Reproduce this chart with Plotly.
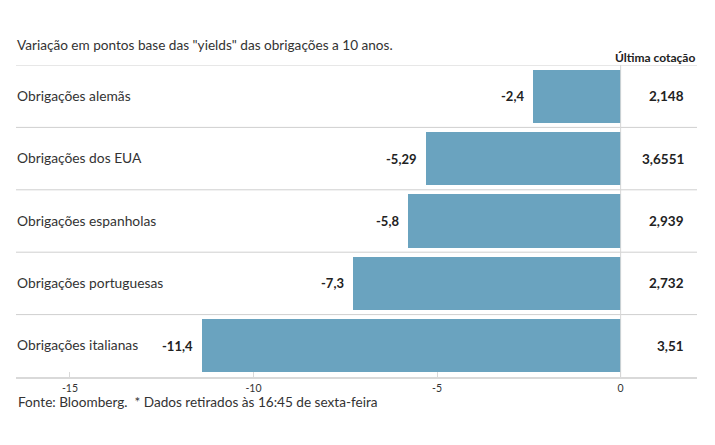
import plotly.graph_objects as go

categories = ["Obrigações alemãs", "Obrigações dos EUA", "Obrigações espanholas",
              "Obrigações portuguesas", "Obrigações italianas"]
variation = [-2.4, -5.29, -5.8, -7.3, -11.4]
variation_labels = ["-2,4", "-5,29", "-5,8", "-7,3", "-11,4"]
last_quote = ["2,148", "3,6551", "2,939", "2,732", "3,51"]
tick_vals = [-15, -10, -5, 0]
tick_text = ["-15", "-10", "-5", "0"]

FONT = "Lato"
TXT = "#333333"
BAR = "#6aa3bf"

n = len(categories)
ypos = list(range(n))

fig = go.Figure()
fig.add_trace(go.Bar(
    y=ypos, x=variation, orientation="h",
    marker=dict(color=BAR, line=dict(width=0)),
    width=0.85, hoverinfo="skip",
))

shapes = []
for i in range(n):
    shapes.append(dict(type="line", xref="paper", yref="y", x0=0, x1=1,
                       y0=i - 0.5, y1=i - 0.5,
                       line=dict(color="#cfcfcf", width=1), layer="below"))
shapes.append(dict(type="line", xref="x", yref="paper", x0=0, x1=0, y0=0, y1=1,
                   line=dict(color="#d6d6d6", width=1), layer="above"))

annotations = []
for i in range(n):
    annotations.append(dict(x=0, xref="paper", y=ypos[i], yref="y", text=categories[i],
                            showarrow=False, xanchor="left", yanchor="middle", xshift=-1,
                            yshift=1,
                            font=dict(family=FONT, size=13.8, color=TXT)))
    annotations.append(dict(x=variation[i], xref="x", y=ypos[i], yref="y",
                            text="<b>" + variation_labels[i] + "</b>",
                            showarrow=False, xanchor="right", yanchor="middle", xshift=-7,
                            font=dict(family=FONT, size=13, color="#222222")))
    annotations.append(dict(x=0.9835, xref="paper", y=ypos[i], yref="y",
                            text="<b>" + last_quote[i] + "</b>",
                            showarrow=False, xanchor="right", yanchor="middle",
                            font=dict(family=FONT, size=13.5, color="#222222")))

annotations.append(dict(x=-0.0015, xref="paper", y=1, yref="paper", yshift=20,
                        text="Variação em pontos base das \"yields\" das obrigações a 10 anos.",
                        showarrow=False, xanchor="left", yanchor="middle",
                        font=dict(family=FONT, size=13.6, color=TXT)))
annotations.append(dict(x=1, xref="paper", y=1, yref="paper", yshift=8,
                        text="<b>Última cotação</b>",
                        showarrow=False, xanchor="right", yanchor="middle",
                        font=dict(family=FONT, size=12, color="#222222")))
annotations.append(dict(x=0, xref="paper", y=0, yref="paper", yshift=-25,
                        text="Fonte: Bloomberg.  * Dados retirados às 16:45 de sexta-feira",
                        showarrow=False, xanchor="left", yanchor="middle",
                        font=dict(family=FONT, size=13.6, color=TXT)))

fig.update_layout(
    width=715, height=445,
    margin=dict(l=8, r=26, t=57, b=76, pad=0),
    paper_bgcolor="white", plot_bgcolor="white",
    showlegend=False,
    xaxis=dict(range=[-16.47, 2.08], tickvals=tick_vals, ticktext=tick_text,
               showgrid=False, zeroline=False, showline=True, linecolor="#d9d9d9",
               linewidth=2, ticks="inside", ticklen=5, tickcolor="#d9d9d9", tickwidth=1,
               tickfont=dict(family=FONT, size=10.5, color=TXT), fixedrange=True),
    yaxis=dict(range=[n - 0.5, -0.5], showticklabels=False, showgrid=False,
               zeroline=False, showline=False, fixedrange=True),
    shapes=shapes, annotations=annotations,
    bargap=0,
)

fig.write_html("out.html")
